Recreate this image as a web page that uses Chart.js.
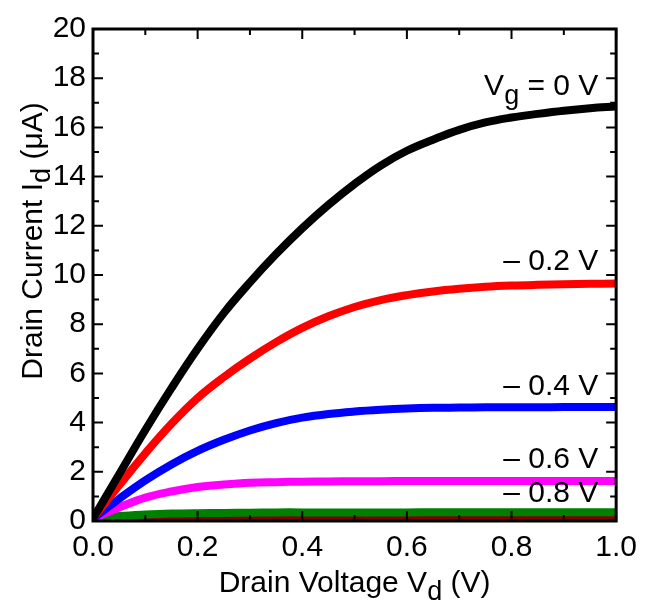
<!DOCTYPE html>
<html>
<head>
<meta charset="utf-8">
<script src="https://cdn.jsdelivr.net/npm/chart.js@4"></script>
<style>
  html, body { margin: 0; padding: 0; background: #fff; }
  #wrap { width: 646px; height: 601px; }
</style>
</head>
<body>
<div id="wrap"><canvas id="idvd"></canvas></div>
<script>
// drain voltage (V)
const vd = [0, 0.05, 0.1, 0.15, 0.2, 0.25, 0.3, 0.35, 0.4, 0.45, 0.5,
            0.55, 0.6, 0.65, 0.7, 0.75, 0.8, 0.85, 0.9, 0.95, 1.0];

// drain current (uA) for each gate voltage
const id_0   = [0.1, 1.9, 3.7, 5.4, 7.0, 8.45, 9.7, 10.85, 11.9, 12.85, 13.7,
                14.45, 15.05, 15.5, 15.9, 16.2, 16.4, 16.55, 16.68, 16.78, 16.85];
const id_m02 = [0.1, 1.45, 2.75, 3.95, 5.0, 5.85, 6.6, 7.27, 7.85, 8.32, 8.7,
                8.98, 9.18, 9.33, 9.44, 9.52, 9.57, 9.6, 9.62, 9.64, 9.65];
const id_m04 = [0.1, 0.9, 1.65, 2.3, 2.85, 3.3, 3.68, 3.98, 4.2, 4.35, 4.45,
                4.52, 4.57, 4.6, 4.61, 4.62, 4.62, 4.62, 4.63, 4.63, 4.63];
const id_m06 = [0.1, 0.55, 0.95, 1.2, 1.38, 1.48, 1.55, 1.58, 1.6, 1.61, 1.62,
                1.62, 1.63, 1.63, 1.63, 1.63, 1.63, 1.63, 1.63, 1.63, 1.63];
const id_m08 = [0.1, 0.2, 0.26, 0.3, 0.32, 0.33, 0.34, 0.35, 0.35, 0.35, 0.35,
                0.35, 0.35, 0.36, 0.36, 0.36, 0.36, 0.36, 0.36, 0.36, 0.36];
const id_m10 = [0.08, 0.08, 0.08, 0.08, 0.08, 0.08, 0.08, 0.08, 0.08, 0.08, 0.08,
                0.08, 0.08, 0.08, 0.08, 0.08, 0.08, 0.08, 0.08, 0.08, 0.08];

const xTicks = [0, 0.2, 0.4, 0.6, 0.8, 1.0];
const yTicks = [0, 2, 4, 6, 8, 10, 12, 14, 16, 18, 20];

const FONT = '"Liberation Sans", Arial, sans-serif';

function pts(ys) {
  return vd.map((x, i) => ({ x: x, y: ys[i] }));
}

function line(label, ys, color, width, order) {
  return {
    label: label,
    data: pts(ys),
    borderColor: color,
    borderWidth: width,
    borderJoinStyle: 'round',
    pointRadius: 0,
    tension: 0.4,
    order: order
  };
}

// draw text made of normal + subscript pieces
function drawParts(ctx, parts, x, y, size, align) {
  let total = 0;
  parts.forEach(p => {
    ctx.font = (p.sub ? size * 0.9 : size) + 'px ' + FONT;
    p.w = ctx.measureText(p.t).width;
    total += p.w;
  });
  let cx = align === 'right' ? x - total : align === 'center' ? x - total / 2 : x;
  ctx.textAlign = 'left';
  ctx.textBaseline = 'alphabetic';
  parts.forEach(p => {
    ctx.font = (p.sub ? size * 0.9 : size) + 'px ' + FONT;
    ctx.fillText(p.t, cx, p.sub ? y + size * 0.28 : y);
    cx += p.w;
  });
}

const framePlugin = {
  id: 'frame',
  afterDatasetsDraw(chart) {
    const ctx = chart.ctx;
    const a = chart.chartArea;
    const xs = chart.scales.x, ys = chart.scales.y;
    ctx.save();
    ctx.strokeStyle = '#000';
    ctx.fillStyle = '#000';

    // inward ticks, major + minor, on all four sides
    ctx.lineWidth = 2;
    ctx.beginPath();
    for (let i = 0; i <= 10; i++) {
      const px = xs.getPixelForValue(i / 10);
      const len = i % 2 === 0 ? 10 : 6;
      ctx.moveTo(px, a.bottom); ctx.lineTo(px, a.bottom - len);
      ctx.moveTo(px, a.top); ctx.lineTo(px, a.top + len);
    }
    for (let v = 0; v <= 20; v++) {
      const py = ys.getPixelForValue(v);
      const len = v % 2 === 0 ? 10 : 6;
      ctx.moveTo(a.left, py); ctx.lineTo(a.left + len, py);
      ctx.moveTo(a.right, py); ctx.lineTo(a.right - len, py);
    }
    ctx.stroke();

    ctx.lineWidth = 3;
    ctx.strokeRect(a.left, a.top, a.right - a.left, a.bottom - a.top);

    // curve labels
    const rx = xs.getPixelForValue(0.966);
    drawParts(ctx, [{ t: 'V' }, { t: 'g', sub: true }, { t: ' = 0 V' }], rx, ys.getPixelForValue(17.3), 30, 'right');
    drawParts(ctx, [{ t: '\u2013 0.2 V' }], rx, ys.getPixelForValue(10.2), 30, 'right');
    drawParts(ctx, [{ t: '\u2013 0.4 V' }], rx, ys.getPixelForValue(5.12), 30, 'right');
    drawParts(ctx, [{ t: '\u2013 0.6 V' }], rx, ys.getPixelForValue(2.15), 30, 'right');
    drawParts(ctx, [{ t: '\u2013 0.8 V' }], rx, ys.getPixelForValue(0.77), 30, 'right');

    // axis titles
    drawParts(ctx, [{ t: 'Drain Voltage V' }, { t: 'd', sub: true }, { t: ' (V)' }],
      (a.left + a.right) / 2, 592, 30, 'center');
    ctx.translate(42, 241);
    ctx.rotate(-Math.PI / 2);
    drawParts(ctx, [{ t: 'Drain Current I' }, { t: 'd', sub: true }, { t: ' (\u03bcA)' }],
      0, 0, 30, 'center');
    ctx.restore();
  }
};

new Chart(document.getElementById('idvd'), {
  type: 'line',
  data: {
    datasets: [
      line('Vg = 0 V', id_0, '#000000', 8, 1),
      line('-0.2 V', id_m02, '#ff0000', 8, 2),
      line('-0.4 V', id_m04, '#0000ff', 8, 3),
      line('-0.6 V', id_m06, '#ff00ff', 8, 4),
      line('-0.8 V', id_m08, '#008000', 8, 5),
      line('-1.0 V', id_m10, '#800000', 6, 6)
    ]
  },
  options: {
    responsive: true,
    maintainAspectRatio: false,
    animation: false,
    layout: { padding: { left: 0, top: 29, right: 23, bottom: 0 } },
    plugins: { legend: { display: false }, tooltip: { enabled: false } },
    scales: {
      x: {
        type: 'linear',
        min: 0,
        max: 1,
        afterFit: s => { s.height = 80; },
        afterBuildTicks: s => { s.ticks = xTicks.map(v => ({ value: v })); },
        grid: { display: false, drawTicks: false },
        border: { display: false },
        ticks: {
          autoSkip: false,
          maxRotation: 0,
          padding: 9,
          color: '#000',
          font: { family: FONT, size: 30 },
          callback: v => Number(v).toFixed(1)
        }
      },
      y: {
        type: 'linear',
        min: 0,
        max: 20,
        afterFit: s => { s.width = 93; },
        afterBuildTicks: s => { s.ticks = yTicks.map(v => ({ value: v })); },
        grid: { display: false, drawTicks: false },
        border: { display: false },
        ticks: {
          autoSkip: false,
          padding: 7,
          color: '#000',
          font: { family: FONT, size: 30 },
          callback: v => String(v)
        }
      }
    }
  },
  plugins: [framePlugin]
});
</script>
</body>
</html>
